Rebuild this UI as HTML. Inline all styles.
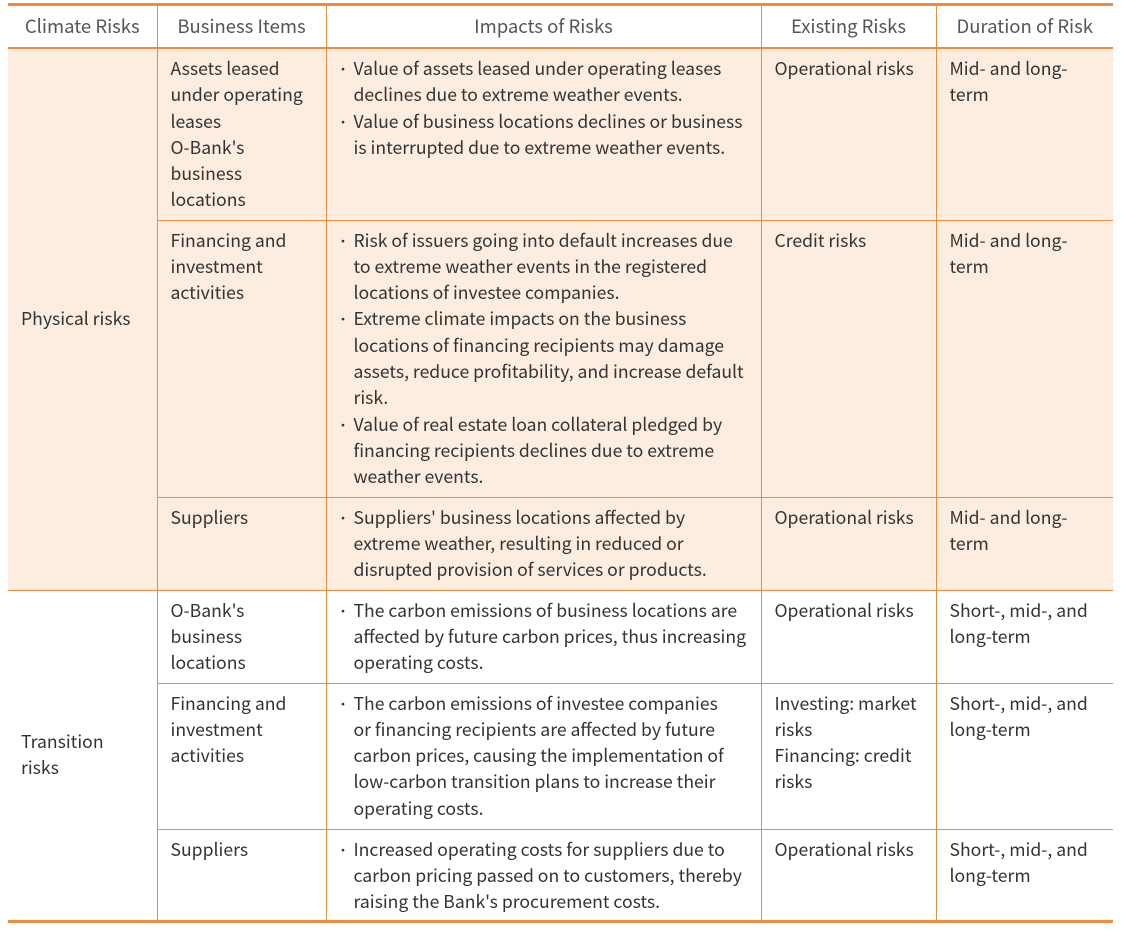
<!DOCTYPE html>
<html><head><meta charset="utf-8"><style>
body{margin:0;background:#fff;width:1121px;height:932px;overflow:hidden}
.wrap{position:absolute;left:8px;top:3px;width:1105px}
table{border-collapse:collapse;table-layout:fixed;width:1105px;font-family:"Noto Sans CJK TC","Liberation Sans",sans-serif;font-size:17.6px;line-height:26.3px;color:#333}
td,th{border:1px solid #f08a3c;vertical-align:top;padding:7px 10px 0 13px;white-space:nowrap;font-weight:normal}
tr>*:first-child{border-left:none}
tr>*:last-child{border-right:none}
th{color:#555;font-size:18.5px;text-align:center;vertical-align:middle;padding:0;height:41px;border-top:3px solid #f08a3c;border-bottom:2px solid #f08a3c}
.p td{background:#fdece0}
td.c1{vertical-align:middle;padding-top:0}
td.tb{border-bottom:3px solid #f08a3c}
.b{position:relative;padding-left:14px}
.b:before{content:"・";position:absolute;left:-3px;top:0;font-size:13px}
tr.last td{border-bottom:3px solid #f08a3c}
</style></head><body><div class="wrap">
<table>
<colgroup><col style="width:149px"><col style="width:169px"><col style="width:435px"><col style="width:175px"><col style="width:177px"></colgroup>
<tr><th>Climate Risks</th><th>Business Items</th><th>Impacts of Risks</th><th>Existing Risks</th><th>Duration of Risk</th></tr>
<tr class="p" style="height:172px"><td class="c1" rowspan="3">Physical risks</td><td>Assets leased<br>under operating<br>leases<br>O-Bank's<br>business<br>locations</td><td><div class="b">Value of assets leased under operating leases<br>declines due to extreme weather events.</div><div class="b">Value of business locations declines or business<br>is interrupted due to extreme weather events.</div></td><td>Operational risks</td><td>Mid- and long-<br>term</td></tr>
<tr class="p" style="height:277px"><td>Financing and<br>investment<br>activities</td><td><div class="b">Risk of issuers going into default increases due<br>to extreme weather events in the registered<br>locations of investee companies.</div><div class="b">Extreme climate impacts on the business<br>locations of financing recipients may damage<br>assets, reduce profitability, and increase default<br>risk.</div><div class="b">Value of real estate loan collateral pledged by<br>financing recipients declines due to extreme<br>weather events.</div></td><td>Credit risks</td><td>Mid- and long-<br>term</td></tr>
<tr class="p" style="height:93px"><td>Suppliers</td><td><div class="b">Suppliers' business locations affected by<br>extreme weather, resulting in reduced or<br>disrupted provision of services or products.</div></td><td>Operational risks</td><td>Mid- and long-<br>term</td></tr>
<tr style="height:93px"><td class="c1 tb" rowspan="3">Transition<br>risks</td><td>O-Bank's<br>business<br>locations</td><td><div class="b">The carbon emissions of business locations are<br>affected by future carbon prices, thus increasing<br>operating costs.</div></td><td>Operational risks</td><td>Short-, mid-, and<br>long-term</td></tr>
<tr style="height:146px"><td>Financing and<br>investment<br>activities</td><td><div class="b">The carbon emissions of investee companies<br>or financing recipients are affected by future<br>carbon prices, causing the implementation of<br>low-carbon transition plans to increase their<br>operating costs.</div></td><td>Investing: market<br>risks<br>Financing: credit<br>risks</td><td>Short-, mid-, and<br>long-term</td></tr>
<tr class="last" style="height:92px"><td>Suppliers</td><td><div class="b">Increased operating costs for suppliers due to<br>carbon pricing passed on to customers, thereby<br>raising the Bank's procurement costs.</div></td><td>Operational risks</td><td>Short-, mid-, and<br>long-term</td></tr>
</table></div></body></html>
